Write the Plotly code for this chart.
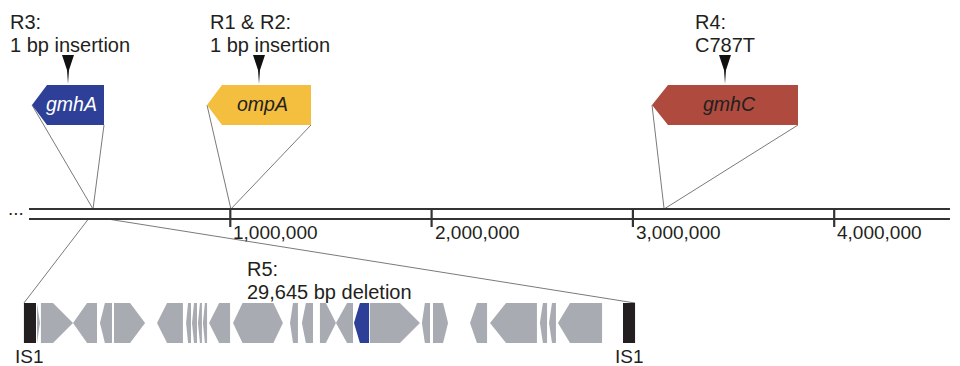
import plotly.graph_objects as go

# ---------------- data ----------------
tick_positions_bp = [1_000_000, 2_000_000, 3_000_000, 4_000_000]
tick_labels = ["1,000,000", "2,000,000", "3,000,000", "4,000,000"]
genome_end_bp = 4_575_000

mutated_genes = ["gmhA", "ompA", "gmhC"]
mutated_gene_pos_bp = [318_000, 1_003_000, 3_155_000]
mutation_ids = ["R3:", "R1 & R2:", "R4:"]
mutation_types = ["1 bp insertion", "1 bp insertion", "C787T"]

deletion_id = "R5:"
deletion_label = "29,645 bp deletion"
deletion_length_kb = 29.645
deletion_anchor_bp = [295_000, 390_000]   # where the zoom lines leave the genome

# genes inside the deleted region (kb from region start)
del_gene_start_kb = [0.05, 0.25, 1.87, 3.23, 3.94, 6.11, 7.58, 7.88, 8.18, 8.43,
                     8.74, 9.95, 12.83, 13.43, 14.34, 15.15, 16.06, 16.87, 19.49,
                     20.05, 21.92, 22.93, 25.45, 25.91, 26.36]
del_gene_end_kb = [0.20, 1.87, 3.08, 3.84, 5.51, 7.42, 7.83, 8.13, 8.38, 8.64,
                   9.80, 12.47, 13.23, 13.99, 15.15, 16.01, 16.82, 19.39, 19.90,
                   20.81, 22.78, 25.30, 25.81, 26.26, 28.59]
del_gene_strand = ["+", "+", "-", "-", "+", "-", "-", "-", "-", "-",
                   "-", "both", "-", "-", "+", "-", "-", "+", "-",
                   "+", "-", "-", "-", "-", "-"]
del_gene_is_gmhA = [False] * 25
del_gene_is_gmhA[16] = True
is1_names = ["IS1", "IS1"]
is1_len_kb = 0.61

# ---------------- layout helpers ----------------
W, H = 960, 366
OFF = 8                              # page body margin of the browser
FW, FH = W - OFF, H - OFF            # figure size that fits the window
BP_PER_PX = 1 / 201.3e-6             # genome axis scale
X0_PX = 29                           # genome position 0 (screen px)
KB_PER_PX = 1 / 19.8                 # deletion axis scale
K0_PX = 36


def px2bp(p):
    return (p - X0_PX) * BP_PER_PX


def px2kb(p):
    return (p - K0_PX) * KB_PER_PX


def paper_x(p):
    return (p - OFF) / FW


head_kb = [0.15, 1.01, 0.71, 0.25, 0.76, 0.51, 0.10, 0.10, 0.10, 0.10,
           0.51, 0.48, 0.15, 0.20, 0.51, 0.56, 0.30, 1.01, 0.15,
           0.25, 0.35, 0.81, 0.15, 0.15, 0.61]

INK = "#231f20"
GREY = "#a8acb2"
BLUE = "#2d3f96"
gene_colors = [BLUE, "#f4be3f", "#ae4b3e"]
gene_text_colors = ["white", INK, INK]
# glyph pixel geometry: (tip, body start, right end)
glyph_px = [(32, 47, 104), (207, 222, 311), (652, 668, 798)]
wedge_px = [68, 259, 725]

FONT = "Arial, 'Liberation Sans', sans-serif"

fig = go.Figure()
fig.add_trace(go.Scatter(x=[], y=[], xaxis="x", yaxis="y", showlegend=False))
fig.add_trace(go.Scatter(x=[], y=[], xaxis="x2", yaxis="y", showlegend=False))

shapes = []
ann = []

# connector lines from glyphs to genome
GY_TOP, GY_BOT, GY_MID = 85, 125, 105
LINE_TOP, LINE_BOT = 209, 219
for (tip, body, right), pos in zip(glyph_px, mutated_gene_pos_bp):
    for (px, py) in [(tip, GY_MID), (right, GY_BOT)]:
        shapes.append(dict(type="line", xref="x", yref="y", x0=px2bp(px), y0=py,
                           x1=pos, y1=LINE_TOP, line=dict(color="#7a7a7a", width=1)))

# deletion zoom lines
shapes.append(dict(type="line", xref="x", yref="y", x0=deletion_anchor_bp[0], y0=LINE_BOT,
                   x1=px2bp(K0_PX + (-is1_len_kb) / KB_PER_PX), y1=303,
                   line=dict(color="#7a7a7a", width=1)))
shapes.append(dict(type="line", xref="x", yref="y", x0=deletion_anchor_bp[1], y0=LINE_BOT,
                   x1=px2bp(K0_PX + (deletion_length_kb + is1_len_kb) / KB_PER_PX), y1=303,
                   line=dict(color="#7a7a7a", width=1)))

# genome double line
for yy in (LINE_TOP, LINE_BOT):
    shapes.append(dict(type="line", xref="x", yref="y", x0=0, x1=genome_end_bp,
                       y0=yy, y1=yy, line=dict(color="#333333", width=2.2)))
for t, lab in zip(tick_positions_bp, tick_labels):
    shapes.append(dict(type="line", xref="x", yref="y", x0=t, x1=t, y0=LINE_TOP, y1=227,
                       line=dict(color="#333333", width=2.2)))
    ann.append(dict(x=t, y=232, xref="x", yref="y", text=lab, showarrow=False,
                    xanchor="left", yanchor="middle", xshift=1,
                    font=dict(family=FONT, size=19, color=INK)))

# top gene glyphs
for (tip, body, right), col, name, tcol, wx in zip(glyph_px, gene_colors, mutated_genes,
                                                   gene_text_colors, wedge_px):
    path = (f"M {px2bp(tip)},{GY_MID} L {px2bp(body)},{GY_TOP} L {px2bp(right)},{GY_TOP} "
            f"L {px2bp(right)},{GY_BOT} L {px2bp(body)},{GY_BOT} Z")
    shapes.append(dict(type="path", xref="x", yref="y", path=path,
                       fillcolor=col, line=dict(width=0)))
    wpath = (f"M {px2bp(wx - 6)},55 L {px2bp(wx + 6)},55 L {px2bp(wx + 1)},70 "
             f"L {px2bp(wx)},84 L {px2bp(wx - 1)},70 Z")
    shapes.append(dict(type="path", xref="x", yref="y", path=wpath,
                       fillcolor="#111111", line=dict(width=0)))
    ann.append(dict(x=px2bp((body + right) / 2 - 4), y=GY_MID - 1, xref="x", yref="y",
                    text=f"<i>{name}</i>", showarrow=False, xanchor="center",
                    yanchor="middle", font=dict(family=FONT, size=19.5, color=tcol)))

# mutation labels
label_left_px = [8, 208, 693]
for lx, mid, mtype in zip(label_left_px, mutation_ids, mutation_types):
    ann.append(dict(x=paper_x(lx), y=22, xref="paper", yref="y", text=mid, showarrow=False,
                    xanchor="left", yanchor="middle", font=dict(family=FONT, size=20, color=INK)))
    ann.append(dict(x=paper_x(lx), y=45, xref="paper", yref="y", text=mtype, showarrow=False,
                    xanchor="left", yanchor="middle", font=dict(family=FONT, size=20, color=INK)))

ann.append(dict(x=paper_x(245), y=269, xref="paper", yref="y", text=deletion_id, showarrow=False,
                xanchor="left", yanchor="middle", font=dict(family=FONT, size=20, color=INK)))
ann.append(dict(x=paper_x(245), y=292, xref="paper", yref="y", text=deletion_label,
                showarrow=False, xanchor="left", yanchor="middle",
                font=dict(family=FONT, size=20, color=INK)))

# ellipses at genome ends
ann.append(dict(x=paper_x(6), y=208, xref="paper", yref="y", text="...", showarrow=False,
                xanchor="left", yanchor="middle", font=dict(family=FONT, size=19, color=INK)))
ann.append(dict(x=paper_x(953), y=208, xref="paper", yref="y", text=".", showarrow=False,
                xanchor="left", yanchor="middle", font=dict(family=FONT, size=19, color=INK)))

# deleted region genes
DY_TOP, DY_BOT = 303, 343
DY_MID = (DY_TOP + DY_BOT) / 2
for s, e, strand, h, blue in zip(del_gene_start_kb, del_gene_end_kb, del_gene_strand,
                                 head_kb, del_gene_is_gmhA):
    h = min(h, e - s)
    if strand == "+":
        path = (f"M {s},{DY_TOP} L {e - h},{DY_TOP} L {e},{DY_MID} L {e - h},{DY_BOT} "
                f"L {s},{DY_BOT} Z")
    elif strand == "-":
        path = (f"M {s},{DY_MID} L {s + h},{DY_TOP} L {e},{DY_TOP} L {e},{DY_BOT} "
                f"L {s + h},{DY_BOT} Z")
    else:
        path = (f"M {s},{DY_MID} L {s + h},{DY_TOP} L {e - h},{DY_TOP} L {e},{DY_MID} "
                f"L {e - h},{DY_BOT} L {s + h},{DY_BOT} Z")
    shapes.append(dict(type="path", xref="x2", yref="y", path=path,
                       fillcolor=BLUE if blue else GREY, line=dict(width=0)))

# IS1 elements flanking the deletion
is1_starts = [-is1_len_kb, deletion_length_kb]
for st, name in zip(is1_starts, is1_names):
    shapes.append(dict(type="rect", xref="x2", yref="y", x0=st, x1=st + is1_len_kb,
                       y0=DY_TOP, y1=DY_BOT, fillcolor=INK, line=dict(width=0)))
    ann.append(dict(x=st + is1_len_kb / 2, y=356, xref="x2", yref="y", text=name,
                    showarrow=False, xanchor="center", yanchor="middle",
                    font=dict(family=FONT, size=19, color=INK)))

fig.update_layout(
    width=FW, height=FH,
    margin=dict(l=0, r=0, t=0, b=0),
    paper_bgcolor="white", plot_bgcolor="white",
    showlegend=False,
    xaxis=dict(range=[px2bp(OFF), px2bp(W)], visible=False, domain=[0, 1]),
    xaxis2=dict(range=[px2kb(OFF), px2kb(W)], visible=False, overlaying="x", domain=[0, 1]),
    yaxis=dict(range=[H, OFF], visible=False, domain=[0, 1]),
    shapes=shapes,
    annotations=ann,
)

fig.write_html("out.html")
